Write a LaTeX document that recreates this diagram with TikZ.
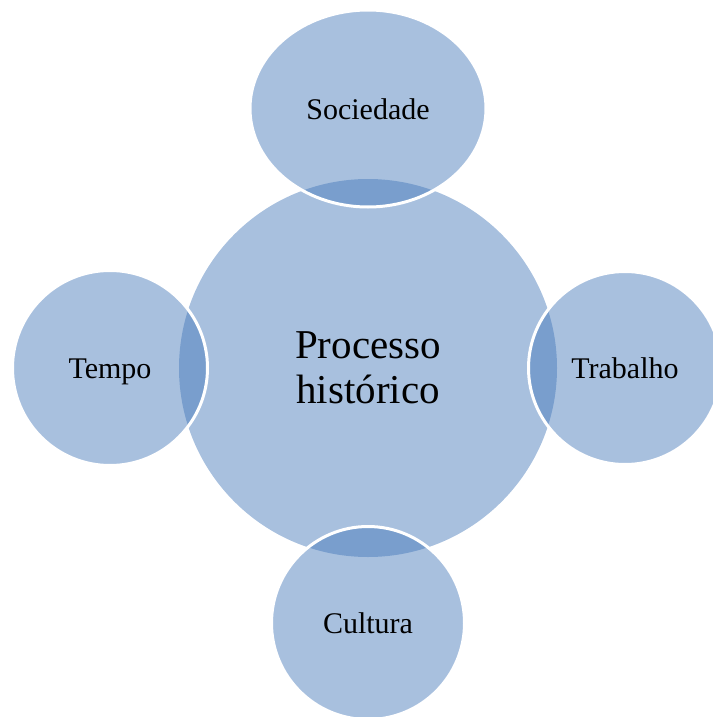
\documentclass[tikz,border=0pt]{standalone}
\usepackage{fontspec}
\setmainfont{Liberation Serif}
\usetikzlibrary{shapes.geometric}
\definecolor{bub}{RGB}{65,118,184}
\tikzset{
  bubble/.style={fill=bub, fill opacity=0.46, text opacity=1, inner sep=0pt, text=black},
  outer/.style={bubble, draw=white, draw opacity=1, line width=3pt, font=\fontsize{30}{36}\selectfont, text height=21pt, text depth=0pt},
}
\begin{document}
\begin{tikzpicture}[x=1pt,y=-1pt]
\useasboundingbox (0,0) rectangle (712,717);
\node[bubble, circle, minimum size=378pt, align=center, font=\fontsize{41}{45}\selectfont] (proc) at (368,368) {Processo\\hist\'orico};
\node[outer, ellipse, minimum width=236pt, minimum height=197pt] (soc) at (368,108.5) {Sociedade};
\node[outer, circle, minimum size=195pt] (temp) at (110,368) {Tempo};
\node[outer, circle, minimum size=193pt] (trab) at (625,368) {Trabalho};
\node[outer, circle, minimum size=193pt] (cult) at (368,623) {Cultura};
\end{tikzpicture}
\end{document}
